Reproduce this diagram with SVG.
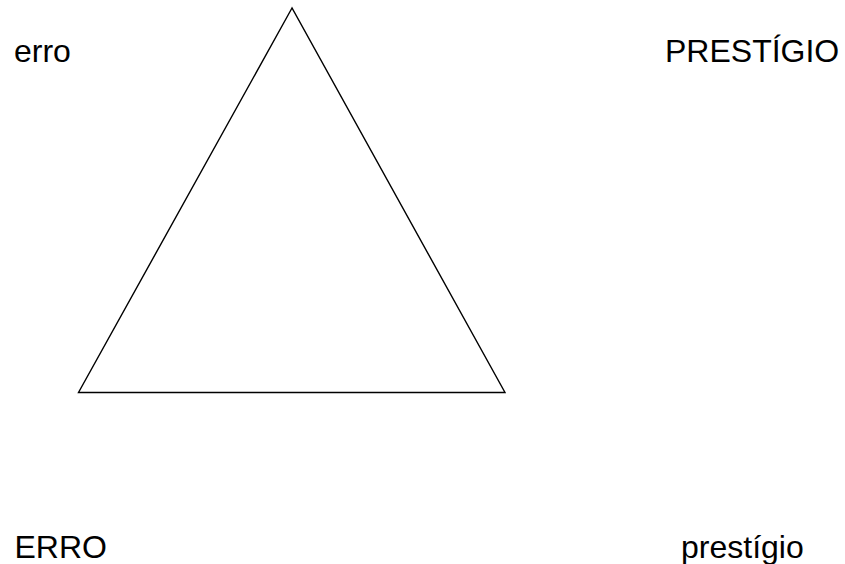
<svg xmlns="http://www.w3.org/2000/svg" width="845" height="564" viewBox="0 0 845 564">
<style>
.t{font-family:"Liberation Sans",Arial,sans-serif;font-size:32px;fill:#000}
.tri{fill:none;stroke:#000;stroke-width:1.4}
</style>
<rect width="845" height="564" fill="#fff"/>
<g id="triangle"><polygon class="tri" points="292,8 78.5,392.5 505,392.5"/></g>
<g id="connectors"></g>
<g id="label-erro"><text class="t" x="14" y="62">erro</text></g>
<g id="label-PRESTIGIO"><text class="t" x="665" y="62">PRESTÍGIO</text></g>
<g id="label-ERRO"><text class="t" x="14.5" y="558">ERRO</text></g>
<g id="label-prestigio"><text class="t" x="681" y="558">prestígio</text></g>
</svg>
